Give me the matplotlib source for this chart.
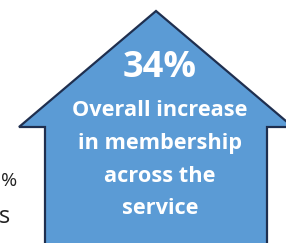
import matplotlib
matplotlib.use("Agg")
import matplotlib.pyplot as plt
from matplotlib.patches import Polygon

# Content
headline = "34%"
caption_lines = ["Overall increase", "in membership", "across the", "service"]
side_fragments = ["%", "s"]

W, H = 286, 243
fig = plt.figure(figsize=(W / 100, H / 100), dpi=100)
ax = fig.add_axes([0, 0, 1, 1])
ax.set_xlim(0, W)
ax.set_ylim(H, 0)
ax.axis("off")

# Up-arrow shape
apex = (156, 11)
wing_y = 127
half_wing = 137
half_shaft = 111
pts = [
    (apex[0], apex[1]),
    (apex[0] + half_wing, wing_y),
    (apex[0] + half_shaft, wing_y),
    (apex[0] + half_shaft, H + 20),
    (apex[0] - half_shaft, H + 20),
    (apex[0] - half_shaft, wing_y),
    (apex[0] - half_wing, wing_y),
]
ax.add_patch(Polygon(pts, closed=True, facecolor="#5B9BD5", edgecolor="#1F2F4F",
                     linewidth=1.6, joinstyle="miter"))

fam = ["Open Sans", "DejaVu Sans"]
tx = 160
ax.text(tx, 68, headline, ha="center", va="center", color="white",
        fontsize=26, fontweight="bold", family=fam)
ys = [110, 143, 176, 208]
for y, line in zip(ys, caption_lines):
    ax.text(tx, y, line, ha="center", va="center", color="white",
            fontsize=15.7, fontweight="bold", family=fam)

ax.text(0.5, 181, side_fragments[0], ha="left", va="center", color="#222222",
        fontsize=14, family=fam)
ax.text(10, 217, side_fragments[1], ha="right", va="center", color="#222222",
        fontsize=17, family=fam)

fig.savefig("out.png", dpi=100)
